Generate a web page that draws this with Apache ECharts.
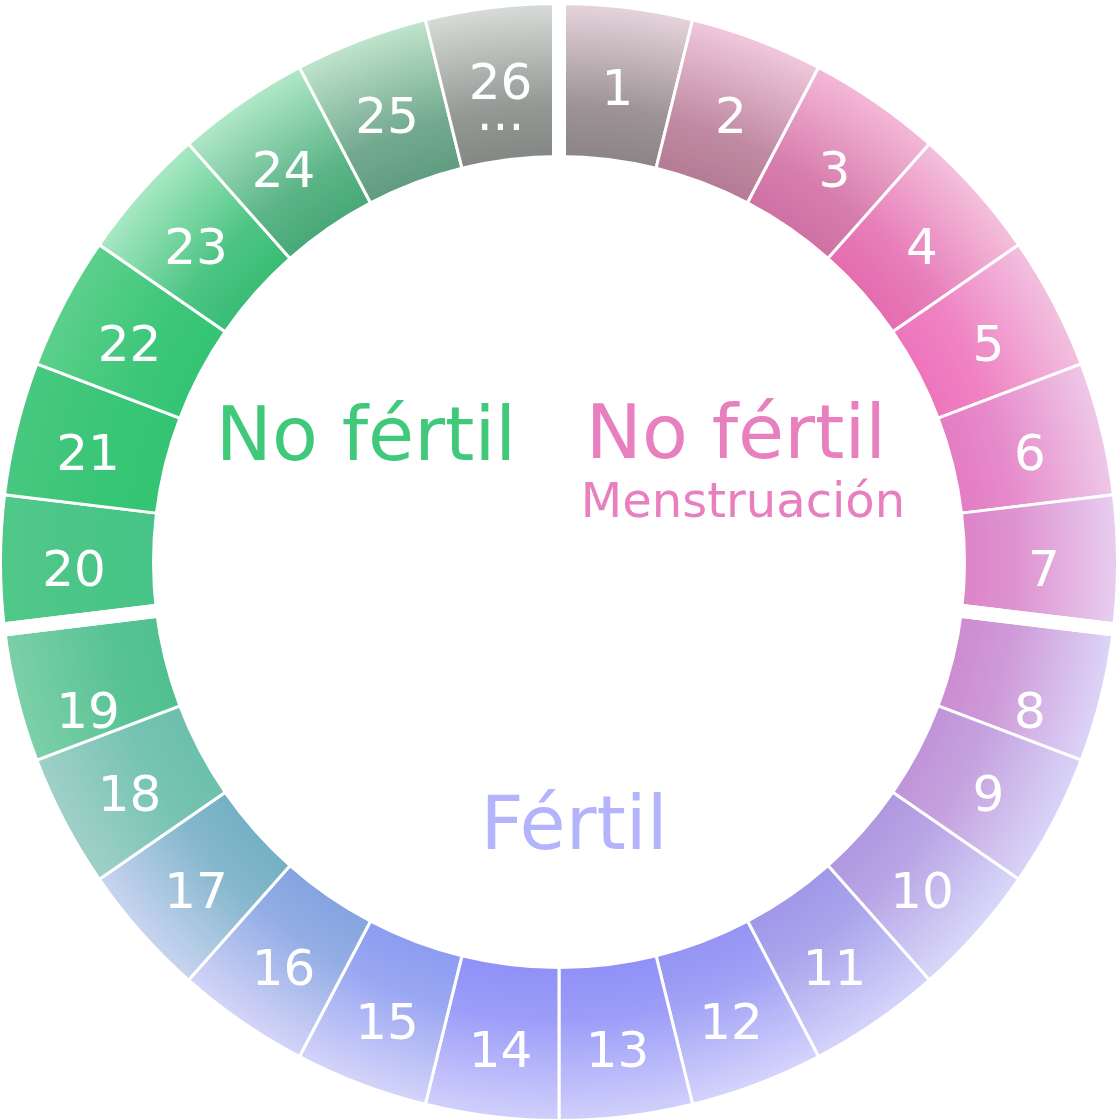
<!DOCTYPE html>
<html>
<head>
<meta charset="utf-8">
<script src="https://cdn.jsdelivr.net/npm/echarts@6/dist/echarts.min.js"></script>
<style>
html, body { margin: 0; padding: 0; background: #ffffff; }
#wrap { position: relative; width: 1120px; height: 1120px; }
#chart, #gaps, #labels { position: absolute; left: 0; top: 0; width: 1120px; height: 1120px; }
#gaps, #labels { pointer-events: none; }
</style>
</head>
<body>
<div id="wrap">
  <div id="chart"></div>
  <div id="gaps"></div>
  <div id="labels"></div>
</div>
<script>
// ---- data ----
const days = ['1','2','3','4','5','6','7','8','9','10','11','12','13','14','15','16','17','18','19','20','21','22','23','24','25','26'];
const dayValues = [1,1,1,1,1,1,1,1,1,1,1,1,1,1,1,1,1,1,1,1,1,1,1,1,1,1];
const phaseNames = ['Menstruación', 'Fértil', 'No fértil'];
const phaseDays = [7, 12, 7];
const innerColors = ['#8c8486','#b47c94','#d070a4','#e46cb0','#ee74bc','#e47cc4','#dc84c8',
  '#cc8cd0','#c094d8','#b098e0','#a098e8','#9494f4','#9090f8','#9090f8','#8c9cf0','#84a4e0','#74b0c4','#6cc0ac','#50c090',
  '#48c488','#34c474','#34c474','#38bc74','#48a878','#609c80','#848884'];
const outerColors = ['#e6d4dc','#f0c8dc','#f4b8d8','#f4c0dc','#f2c0e0','#eec8e8','#e8cef0',
  '#dcd4f8','#d8d4f8','#d8d8fa','#d4d4fa','#d4d4fc','#d0d0fc','#d0d0fc','#d4d4fa','#d4d4f8','#c8d4f0','#a0d0c8','#7cd0a8',
  '#50c888','#48c880','#5cd08c','#a8e8c4','#b0e8c8','#c0e4cc','#d8dcd8'];

// ---- helpers ----
function hexToRgb(h) { return [parseInt(h.slice(1,3),16), parseInt(h.slice(3,5),16), parseInt(h.slice(5,7),16)]; }
function mix(a, b, t) {
  const A = hexToRgb(a), B = hexToRgb(b);
  return 'rgb(' + A.map((v, i) => Math.round(v + (B[i] - v) * t)).join(',') + ')';
}
const CX = 559, CY = 562, R0 = 405.5, R1 = 558.5;
const font = 'DejaVu Sans';
const last = days.length - 1;
// the first and last label of the fertile phase get a small extra vertical nudge
const phaseEdgeLabel = [7, 18];

const ringBase = {
  type: 'pie',
  center: [CX, CY],
  radius: [R0, R1],
  startAngle: 90,
  clockwise: true,
  silent: true,
  avoidLabelOverlap: false,
  labelLine: { show: false }
};

// 1) coloured ring + centre texts
const chart = echarts.init(document.getElementById('chart'), null, { renderer: 'canvas' });
chart.setOption({
  animation: false,
  backgroundColor: '#ffffff',
  series: [Object.assign({}, ringBase, {
    itemStyle: { borderColor: '#ffffff', borderWidth: 3 },
    label: { show: false },
    data: days.map((d, i) => ({
      name: d,
      value: dayValues[i],
      itemStyle: {
        color: new echarts.graphic.RadialGradient(CX, CY, R1, [
          { offset: R0 / R1, color: innerColors[i] },
          { offset: 0.82, color: mix(innerColors[i], outerColors[i], 0.2) },
          { offset: 1, color: outerColors[i] }
        ], true)
      }
    }))
  })],
  graphic: [
    { type: 'text', x: 366, y: 441, style: { text: 'No fértil', fill: '#40c97a', font: '75px "DejaVu Sans"', align: 'center', verticalAlign: 'middle' } },
    { type: 'text', x: 736, y: 439, style: { text: 'No fértil', fill: '#e880c0', font: '75px "DejaVu Sans"', align: 'center', verticalAlign: 'middle' } },
    { type: 'text', x: 743, y: 505, style: { text: 'Menstruación', fill: '#e880c0', font: '48px "DejaVu Sans"', align: 'center', verticalAlign: 'middle' } },
    { type: 'text', x: 574, y: 830, style: { text: 'Fértil', fill: '#b4b4fc', font: '75px "DejaVu Sans"', align: 'center', verticalAlign: 'middle' } }
  ]
});

// 2) phase separators: transparent ring whose wide white borders mark the phase boundaries
const gaps = echarts.init(document.getElementById('gaps'), null, { renderer: 'canvas' });
gaps.setOption({
  animation: false,
  backgroundColor: 'transparent',
  series: [Object.assign({}, ringBase, {
    radius: [R0 - 20, R1 + 20],
    itemStyle: { color: 'rgba(0,0,0,0)', borderColor: '#ffffff', borderWidth: 14 },
    label: { show: false },
    data: phaseNames.map((n, i) => ({ name: n, value: phaseDays[i] }))
  })]
});

// 3) day labels
const labels = echarts.init(document.getElementById('labels'), null, { renderer: 'canvas' });
labels.setOption({
  animation: false,
  backgroundColor: 'transparent',
  series: [Object.assign({}, ringBase, {
    itemStyle: { color: 'rgba(0,0,0,0)', borderWidth: 0 },
    label: {
      show: true,
      position: 'inside',
      color: '#ffffff',
      fontFamily: font,
      fontSize: 50,
      offset: [0, 11],
      formatter: function (p) {
        return p.dataIndex === last ? '{a|' + p.name + '}\n{b|...}' : p.name;
      },
      rich: {
        a: { color: '#ffffff', fontFamily: font, fontSize: 50, lineHeight: 50 },
        b: { color: '#ffffff', fontFamily: font, fontSize: 50, lineHeight: 12 }
      }
    },
    data: days.map((d, i) => {
      const item = { name: d, value: dayValues[i] };
      if (phaseEdgeLabel.indexOf(i) >= 0) item.label = { offset: [0, 37] };
      return item;
    })
  })]
});
</script>
</body>
</html>
